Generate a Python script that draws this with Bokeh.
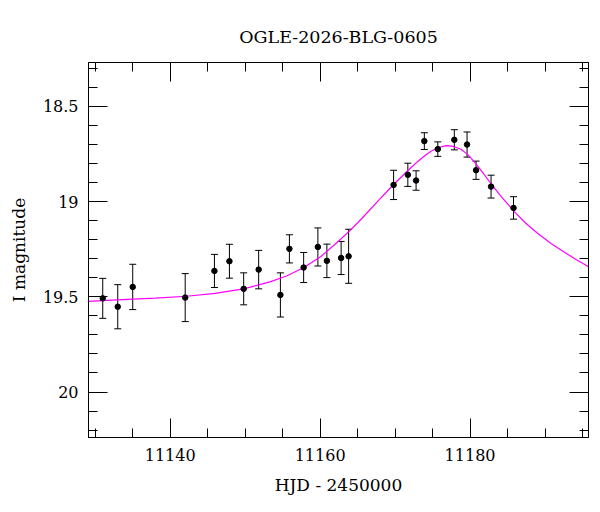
from bokeh.plotting import figure
from bokeh.models import (Range1d, FixedTicker, LinearAxis, ColumnDataSource,
                          Whisker, TeeHead)
from bokeh.embed import file_html
from bokeh.resources import INLINE

# ---- data ----
hjd = [11131.0, 11133.0, 11135.0, 11142.0, 11145.9, 11147.9, 11149.8, 11151.8,
       11154.7, 11155.9, 11157.8, 11159.7, 11160.9, 11162.8, 11163.8, 11169.8,
       11171.7, 11172.8, 11173.9, 11175.7, 11177.9, 11179.6, 11180.8, 11182.8,
       11185.8]
mag = [19.508, 19.552, 19.448, 19.504, 19.364, 19.313, 19.458, 19.357,
       19.490, 19.248, 19.346, 19.238, 19.311, 19.296, 19.287, 18.912,
       18.859, 18.889, 18.682, 18.724, 18.675, 18.700, 18.835, 18.921,
       19.033]
err = [0.105, 0.116, 0.119, 0.126, 0.087, 0.089, 0.084, 0.101,
       0.116, 0.074, 0.079, 0.100, 0.088, 0.087, 0.142, 0.077,
       0.061, 0.051, 0.044, 0.038, 0.053, 0.066, 0.048, 0.060,
       0.059]

model_hjd = [11129.1, 11132.9, 11138.0, 11142.2, 11146.0, 11149.8, 11153.4,
             11155.6, 11157.9, 11160.1, 11162.3, 11163.9, 11165.5, 11167.7,
             11169.9, 11172.1, 11173.0, 11173.9, 11174.8, 11175.7, 11176.8,
             11177.8, 11178.8, 11179.7, 11180.6, 11181.7, 11182.8, 11184.3,
             11185.9, 11187.4, 11189.0, 11190.8, 11192.6, 11194.2, 11195.8]
model_mag = [19.524, 19.516, 19.507, 19.497, 19.482, 19.458, 19.420,
             19.389, 19.345, 19.288, 19.213, 19.155, 19.091, 18.997,
             18.906, 18.822, 18.790, 18.760, 18.735, 18.717, 18.706,
             18.710, 18.725, 18.753, 18.792, 18.848, 18.906, 18.980,
             19.052, 19.112, 19.166, 19.220, 19.266, 19.305, 19.342]

x_major = [11140, 11160, 11180]
x_minor = [11130, 11135, 11145, 11150, 11155, 11165, 11170, 11175, 11185,
           11190, 11195]
y_major = [18.5, 19.0, 19.5, 20.0]
y_labels = ["18.5", "19", "19.5", "20"]
y_minor = [18.3, 18.4, 18.6, 18.7, 18.8, 18.9, 19.1, 19.2, 19.3, 19.4,
           19.6, 19.7, 19.8, 19.9, 20.1, 20.2]

title_text = "OGLE-2026-BLG-0605"
x_title = "HJD - 2450000"
y_title = "I magnitude"

FONT = "DejaVu Serif"

p = figure(frame_width=500, frame_height=375,
           x_range=Range1d(11129.1, 11195.8),
           y_range=Range1d(20.239, 18.269),
           output_backend="svg", toolbar_location=None,
           min_border_left=88, min_border_right=12,
           min_border_top=62, min_border_bottom=70,
           x_axis_label=x_title, y_axis_label=y_title,
           title=title_text)

p.background_fill_color = "white"
p.border_fill_color = "white"
p.outline_line_color = "black"
p.outline_line_width = 1
p.xgrid.visible = False
p.ygrid.visible = False

p.title.align = "center"
p.title.text_font = FONT
p.title.text_font_size = "17.5px"
p.title.text_font_style = "normal"
p.title.text_color = "black"
p.title.standoff = 32

xt = FixedTicker(ticks=x_major, minor_ticks=x_minor)
yt = FixedTicker(ticks=y_major, minor_ticks=y_minor)


def style(ax, ticker):
    ax.ticker = ticker
    ax.axis_line_color = "black"
    ax.axis_line_width = 1
    ax.major_tick_line_color = "black"
    ax.minor_tick_line_color = "black"
    ax.major_tick_in = 19
    ax.major_tick_out = 0
    ax.minor_tick_in = 9
    ax.minor_tick_out = 0
    ax.major_label_text_font = FONT
    ax.major_label_text_font_size = "16px"
    ax.major_label_text_color = "black"
    ax.axis_label_text_font = FONT
    ax.axis_label_text_font_size = "17px"
    ax.axis_label_text_font_style = "normal"
    ax.axis_label_text_color = "black"


xa = p.xaxis[0]
ya = p.yaxis[0]
style(xa, xt)
style(ya, yt)
xa.major_label_standoff = 11
xa.axis_label_standoff = 11
ya.major_label_standoff = 10
ya.axis_label_standoff = 11
ya.major_label_overrides = {v: s for v, s in zip(y_major, y_labels)}

top = LinearAxis()
style(top, xt)
top.major_label_overrides = {v: "" for v in x_major}
top.major_label_standoff = 0
p.add_layout(top, "above")
right = LinearAxis()
style(right, yt)
right.major_label_overrides = {v: "" for v in y_major}
right.major_label_standoff = 0
p.add_layout(right, "right")

# model curve
p.line(model_hjd, model_mag, line_color="#ff00ff", line_width=1.2)

# data with error bars
upper = [m + e for m, e in zip(mag, err)]
lower = [m - e for m, e in zip(mag, err)]
src = ColumnDataSource(dict(x=hjd, y=mag, upper=upper, lower=lower))
wh = Whisker(base="x", upper="upper", lower="lower", source=src,
             line_color="black", line_width=1,
             upper_head=TeeHead(size=7, line_color="black", line_width=1),
             lower_head=TeeHead(size=7, line_color="black", line_width=1))
p.add_layout(wh)
p.scatter("x", "y", source=src, size=5.5, fill_color="black",
          line_color="black")

open("out.html", "w").write(file_html(p, INLINE))
